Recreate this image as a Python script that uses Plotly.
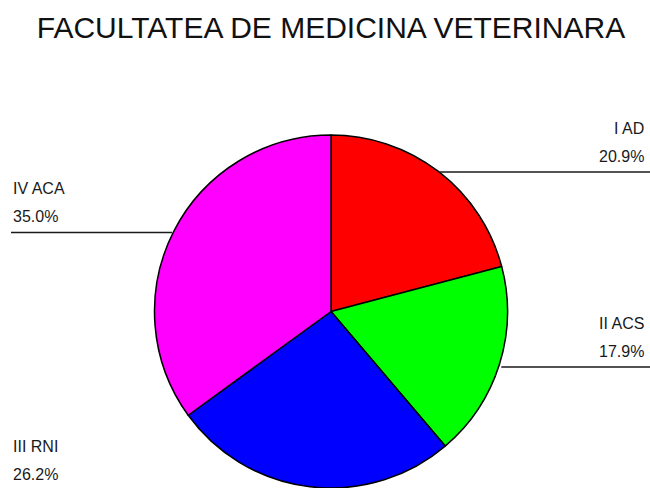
import math
import plotly.graph_objects as go

labels = ["I AD", "II ACS", "III RNI", "IV ACA"]
values = [20.9, 17.9, 26.2, 35.0]
colors = ["#FF0000", "#00FF00", "#0000FF", "#FF00FF"]

W, H = 650, 488
FONT = "Arial, Liberation Sans, sans-serif"

# pie geometry in pixels (as in the original picture)
cx, cy, r = 331, 313.5, 178.5
top = 135

fig = go.Figure(go.Pie(
    labels=labels, values=values, sort=False, direction="clockwise", rotation=0,
    marker=dict(colors=colors, line=dict(color="#000000", width=1.5)),
    textinfo="none", hoverinfo="label+percent", showlegend=False,
    domain=dict(x=[(cx - (H - top) / 2) / W, (cx + (H - top) / 2) / W],
                y=[0, (H - top) / H]),
))

# labels and horizontal leader lines from the middle of each slice
total = sum(values)
acc = 0
for lab, v in zip(labels, values):
    a = 2 * math.pi * (acc + v / 2) / total
    acc += v
    px = cx + r * math.sin(a)
    py = cy - r * math.cos(a)
    right = math.sin(a) > 0
    x_end = 650 if right else 11
    fig.add_shape(type="line", xref="paper", yref="paper",
                  x0=px / W, x1=x_end / W, y0=1 - py / H, y1=1 - py / H,
                  line=dict(color="#1a1a1a", width=1.5))
    tx = 646 / W if right else 11 / W
    anchor = "right" if right else "left"
    fig.add_annotation(x=tx, y=1 - (py - 44) / H, xref="paper", yref="paper",
                       text=lab, showarrow=False, xanchor=anchor, yanchor="middle",
                       font=dict(size=16, color="#1a1a1a", family=FONT))
    fig.add_annotation(x=tx, y=1 - (py - 16) / H, xref="paper", yref="paper",
                       text=f"{v / total * 100:.1f}%", showarrow=False,
                       xanchor=anchor, yanchor="middle",
                       font=dict(size=16, color="#1a1a1a", family=FONT))

fig.update_layout(
    width=W, height=H,
    margin=dict(l=0, r=0, t=0, b=0),
    paper_bgcolor="white", plot_bgcolor="white",
    title=dict(text="FACULTATEA DE MEDICINA VETERINARA", x=331 / W, xanchor="center",
               y=1 - 27 / H, yanchor="middle",
               font=dict(size=30, color="#111111", family=FONT)),
)

# drop the default page margin so the figure sits at the window corner
fig.write_html("out.html", config={"displayModeBar": False},
               post_script="document.body.style.margin='0';")
